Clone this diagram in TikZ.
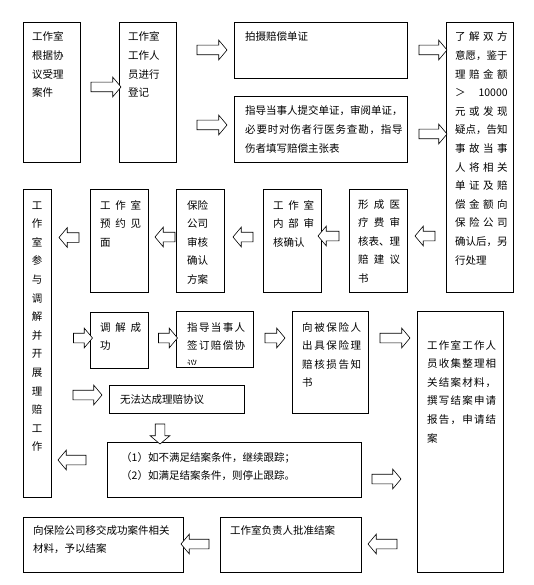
\documentclass[tikz,border=0pt]{standalone}
\usepackage{fontspec}
\usepackage{xcolor}
\newfontfamily\cjk{Noto Sans CJK SC}
\usetikzlibrary{shapes.arrows}
\setlength{\parindent}{0pt}
\newcommand{\jl}[2]{\makebox[#1][s]{\spaceskip=0pt plus 1fil\relax #2}}
\tikzset{
  box/.style={draw, line width=0.8pt, anchor=north west, inner sep=0pt},
  txt/.style={anchor=base west, inner sep=0pt, text width=180pt, align=left, font=\cjk\fontsize{10.5}{18.6}\selectfont},
  txtc/.style={txt, anchor=base, text width=12pt, align=center},
  barrow/.style={single arrow, draw, fill=white, line width=0.6pt, inner sep=4.5pt,
    single arrow head extend=5pt, single arrow tip angle=100, minimum height=#1},
  barrow/.default=30pt
}

\begin{document}
\begin{tikzpicture}[x=1pt, y=-1pt]
\useasboundingbox (0,0) rectangle (534,585);

\node[box, minimum width=57pt, minimum height=140pt] (shouli) at (23,22) {};
\node[box, minimum width=57pt, minimum height=140pt] (dengji) at (119,22) {};
\node[box, minimum width=173pt, minimum height=56pt] (paishe) at (234,22) {};
\node[box, minimum width=173pt, minimum height=66pt] (zhidao) at (234,96) {};
\node[box, minimum width=67pt, minimum height=270pt] (liaojie) at (446,22) {};

\node[box, minimum width=28pt, minimum height=308pt] (canyu) at (23,189) {};
\node[box, minimum width=58pt, minimum height=103pt] (yuyue) at (90,189) {};
\node[box, minimum width=48pt, minimum height=103pt] (shenhe) at (176,189) {};
\node[box, minimum width=58pt, minimum height=103pt] (neibu) at (263,189) {};
\node[box, minimum width=58pt, minimum height=103pt] (xingcheng) at (349,189) {};

\node[box, minimum width=58pt, minimum height=56pt] (chenggong) at (90,312) {};
\node[box, minimum width=77pt, minimum height=56pt] (qianding) at (176,311) {};
\node[box, minimum width=76pt, minimum height=102pt] (chuju) at (292,311) {};
\node[box, minimum width=86pt, minimum height=261pt] (shouji) at (417,311) {};
\node[box, minimum width=135pt, minimum height=28pt] (wufa) at (109,385) {};
\node[box, minimum width=254pt, minimum height=55pt] (genzong) at (107,442) {};
\node[box, minimum width=160pt, minimum height=55pt] (yijiao) at (23,517) {};
\node[box, minimum width=141pt, minimum height=55pt] (pizhun) at (220,517) {};

\node[txt] at ([shift={(9,19)}]shouli.north west) {工作室\\根据协\\议受理\\案件};
\node[txt] at ([shift={(9,19)}]dengji.north west) {工作室\\工作人\\员进行\\登记};
\node[txt] at ([shift={(11,19)}]paishe.north west) {拍摄赔偿单证};
\node[txt] at ([shift={(11,19)}]zhidao.north west) {指导当事人提交单证，审阅单证，\\\jl{157.5pt}{必 要 时 对 伤 者 行 医 务 查 勘 ， 指 导}\\伤者填写赔偿主张表};
\node[txt] at ([shift={(9,19)}]liaojie.north west) {\jl{52.5pt}{了 解 双 方}\\意愿，鉴于\\\jl{52.5pt}{理 赔 金 额}\\\jl{52.5pt}{＞ 10000}\\\jl{52.5pt}{元 或 发 现}\\疑点，告知\\\jl{52.5pt}{事 故 当 事}\\\jl{52.5pt}{人 将 相 关}\\\jl{52.5pt}{单 证 及 赔}\\\jl{52.5pt}{偿 金 额 向}\\\jl{52.5pt}{保 险 公 司}\\确认后，另\\行处理};

\node[txtc] at ([shift={(14,20)}]canyu.north west) {工\\作\\室\\参\\与\\调\\解\\并\\开\\展\\理\\赔\\工\\作};
\node[txt] at ([shift={(10,20)}]yuyue.north west) {\jl{41pt}{工 作 室}\\\jl{41pt}{预 约 见}\\面};
\node[txt] at ([shift={(11,20)}]shenhe.north west) {保险\\公司\\审核\\确认\\方案};
\node[txt] at ([shift={(10,20)}]neibu.north west) {\jl{41pt}{工 作 室}\\\jl{41pt}{内 部 审}\\核确认};
\node[txt] at ([shift={(9,19)}]xingcheng.north west) {\jl{42pt}{形 成 医}\\\jl{42pt}{疗 费 审}\\核表、理\\\jl{42pt}{赔 建 议}\\书};

\node[txt] at ([shift={(10,19)}]chenggong.north west) {\jl{41pt}{调 解 成}\\功};
\begin{scope}
\clip ([shift={(1,1)}]qianding.north west) rectangle ([shift={(-1,-3)}]qianding.south east);
\node[txt] at ([shift={(11,20)}]qianding.north west) {\jl{58pt}{指 导 当 事 人}\\\jl{58pt}{签 订 赔 偿 协}\\议};
\end{scope}
\node[txt] at ([shift={(10,20)}]chuju.north west) {\jl{59pt}{向 被 保 险 人}\\\jl{59pt}{出 具 保 险 理}\\\jl{59pt}{赔 核 损 告 知}\\书};
\node[txt] at ([shift={(10,38)}]shouji.north west) {\jl{69pt}{工 作 室 工 作 人}\\\jl{69pt}{员 收 集 整 理 相}\\\jl{69pt}{关 结 案 材 料 ，}\\\jl{69pt}{撰 写 结 案 申 请}\\\jl{69pt}{报 告 ， 申 请 结}\\案};
\node[txt] at ([shift={(11,18)}]wufa.north west) {无法达成理赔协议};
\node[txt] at ([shift={(14,19)}]genzong.north west) {（1）如不满足结案条件，继续跟踪；\\（2）如满足结案条件，则停止跟踪。};
\node[txt] at ([shift={(10,17)}]yijiao.north west) {向保险公司移交成功案件相关\\材料，予以结案};
\node[txt] at ([shift={(10,17)}]pizhun.north west) {工作室负责人批准结案};

\node[barrow=30pt] (shouli-dengji) at (104,87) {};
\node[barrow=30pt] (dengji-paishe) at (210,50) {};
\node[barrow=30pt] (dengji-zhidao) at (210,125) {};
\node[barrow=28pt] (paishe-liaojie) at (431,50) {};
\node[barrow=28pt] (zhidao-liaojie) at (431,134) {};

\node[barrow=20pt, rotate=180] (liaojie-xingcheng) at (427,236) {};
\node[barrow=21pt, rotate=180] (xingcheng-neibu) at (330.5,236) {};
\node[barrow=20pt, rotate=180] (neibu-shenhe) at (245,237) {};
\node[barrow=20pt, rotate=180] (shenhe-yuyue) at (167,237) {};
\node[barrow=20pt, rotate=180] (yuyue-canyu) at (71,237.5) {};

\node[barrow=19pt] (canyu-chenggong) at (81,338) {};
\node[barrow=19pt] (chenggong-qianding) at (166,338) {};
\node[barrow=20pt] (qianding-chuju) at (273,338) {};
\node[barrow=30pt] (chuju-shouji) at (393,338) {};
\node[barrow=29pt] (canyu-wufa) at (85.5,395) {};
\node[barrow=20pt, rotate=-90] (wufa-genzong) at (160,432) {};
\node[barrow=28pt, rotate=180] (genzong-canyu) at (74,460) {};
\node[barrow=29pt] (genzong-shouji) at (384.5,479) {};
\node[barrow=29pt, rotate=180] (shouji-pizhun) at (384.5,544) {};
\node[barrow=28pt, rotate=180] (pizhun-yijiao) at (197,544) {};
\end{tikzpicture}
\end{document}
